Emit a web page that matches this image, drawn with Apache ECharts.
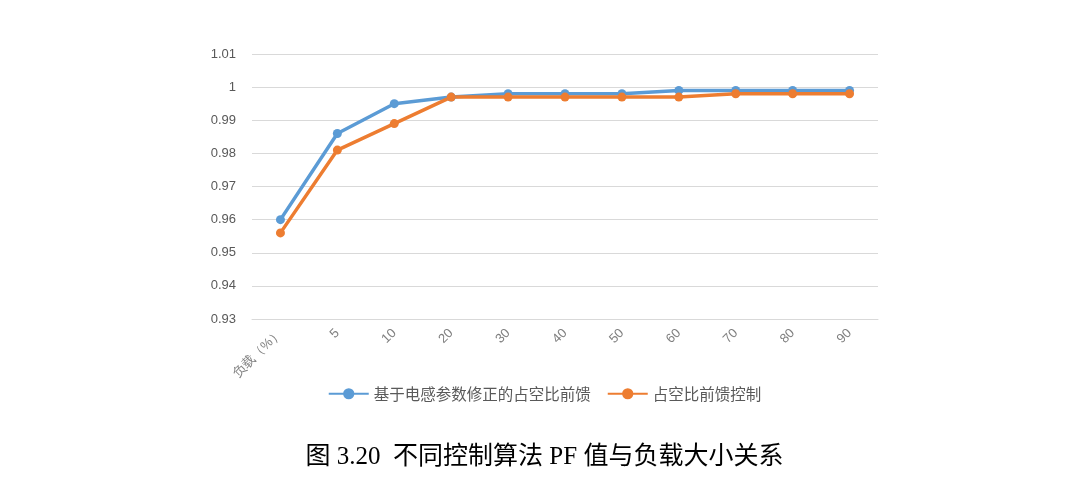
<!DOCTYPE html>
<html><head><meta charset="utf-8">
<script src="https://cdn.jsdelivr.net/npm/echarts@6/dist/echarts.min.js"></script>
<style>html,body{margin:0;background:#fff}#c{width:1089px;height:485px}</style>
</head><body><div id="c"></div>
<script>
const categories = ['负载（%）', '5', '10', '20', '30', '40', '50', '60', '70', '80', '90'];
const seriesA = [0.960, 0.986, 0.995, 0.997, 0.998, 0.998, 0.998, 0.999, 0.999, 0.999, 0.999];
const seriesB = [0.956, 0.981, 0.989, 0.997, 0.997, 0.997, 0.997, 0.997, 0.998, 0.998, 0.998];
const nameA = '基于电感参数修正的占空比前馈';
const nameB = '占空比前馈控制';

const chart = echarts.init(document.getElementById('c'));
chart.setOption({
  animation: false,
  color: ['#5b9bd5', '#ed7d31'],
  title: {
    text: '图 3.20  不同控制算法 PF 值与负载大小关系',
    left: 'center', top: 440,
    textStyle: { fontFamily: '"Liberation Serif", "Noto Sans CJK SC"', fontWeight: 'normal', fontSize: 25, color: '#000' }
  },
  legend: {
    top: 381, left: 'center', itemWidth: 40, itemGap: 16,
    textStyle: { fontSize: 15.5, color: '#595959', fontFamily: 'Noto Sans CJK SC' },
    data: [nameA, nameB]
  },
  grid: { left: 252, right: 211, top: 54, bottom: 166 },
  xAxis: {
    type: 'category', data: categories, boundaryGap: true,
    axisLine: { lineStyle: { color: '#d9d9d9' } }, axisTick: { show: false },
    axisLabel: { rotate: 45, color: '#7f7f7f', fontSize: 13, interval: 0, margin: 12 }
  },
  yAxis: {
    type: 'value', min: 0.93, max: 1.01, interval: 0.01,
    axisLine: { show: false }, axisTick: { show: false },
    splitLine: { lineStyle: { color: '#d9d9d9' } },
    axisLabel: { color: '#595959', fontSize: 13, margin: 16,
      formatter: v => String(parseFloat(v.toFixed(2))) }
  },
  series: [
    { name: nameA, type: 'line', data: seriesA, symbol: 'circle', symbolSize: 9, lineStyle: { width: 3.5 } },
    { name: nameB, type: 'line', data: seriesB, symbol: 'circle', symbolSize: 9, lineStyle: { width: 3.5 } }
  ]
});
</script></body></html>
